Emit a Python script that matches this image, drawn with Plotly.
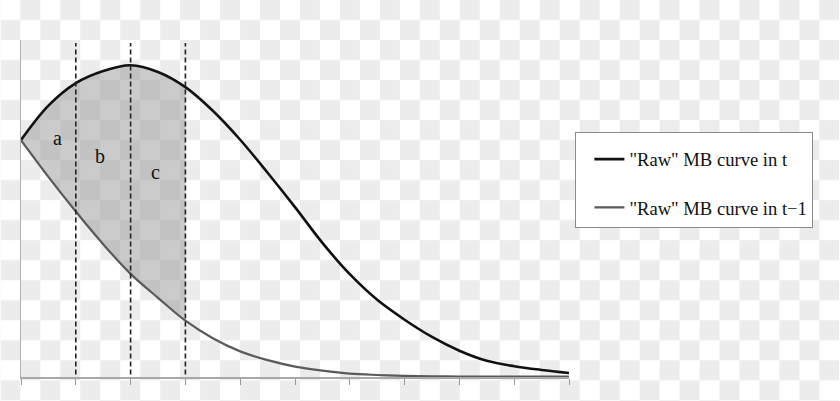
import base64
import plotly.graph_objects as go

# ---- data (x in tick units, y in relative MB units) ----
x_vals = [0, 0.5, 1, 1.5, 2, 2.5, 3, 3.5, 4, 4.5, 5, 5.5, 6, 6.5, 7, 7.5, 8, 8.5, 9, 9.5, 10]
mb_t = [7.03, 8.05, 8.72, 9.08, 9.25, 9.05, 8.60, 7.90, 7.04, 6.06, 5.04, 3.98, 3.05, 2.29, 1.70, 1.19, 0.78, 0.48, 0.32, 0.21, 0.12]
mb_t1 = [7.03, 5.94, 4.91, 3.94, 3.06, 2.35, 1.67, 1.15, 0.76, 0.50, 0.31, 0.19, 0.10, 0.06, 0.035, 0.022, 0.015, 0.012, 0.01, 0.01, 0.01]
series_names = ['"Raw" MB curve in t', '"Raw" MB curve in t\u22121']
divider_x = [1, 2, 3]
shade_end = 3
area_labels = ["a", "b", "c"]
area_label_x = [0.67, 1.44, 2.45]
area_label_y = [7.1, 6.55, 6.08]
x_ticks = list(range(0, 11))

SERIF = "Liberation Serif, Times New Roman, serif"

fig = go.Figure()

# shaded area between the curves up to the last divider
sx = [x for x in x_vals if x <= shade_end]
fig.add_trace(go.Scatter(x=sx, y=mb_t1[:len(sx)], mode="lines", line=dict(width=0, shape="spline"),
                         showlegend=False, hoverinfo="skip"))
fig.add_trace(go.Scatter(x=sx, y=mb_t[:len(sx)], mode="lines", line=dict(width=0, shape="spline"),
                         fill="tonexty", fillcolor="rgba(160,160,160,0.55)",
                         showlegend=False, hoverinfo="skip"))

# main curves
fig.add_trace(go.Scatter(x=x_vals, y=mb_t, mode="lines", name=series_names[0],
                         line=dict(color="#111111", width=2.6, shape="spline"),
                         legendgroup="g1"))
fig.add_trace(go.Scatter(x=x_vals, y=mb_t1, mode="lines", name=series_names[1],
                         line=dict(color="#5a5a5a", width=2.2, shape="spline"),
                         legendgroup="g2"))

# dashed dividers
for xv in divider_x:
    fig.add_shape(type="line", x0=xv, x1=xv, y0=-0.16, y1=9.91, xref="x", yref="y",
                  line=dict(color="#222222", width=1.6, dash="5px,3px"), layer="above")

for t, xx, yy in zip(area_labels, area_label_x, area_label_y):
    fig.add_annotation(x=xx, y=yy, text=t, showarrow=False,
                       font=dict(family=SERIF, size=20, color="#111111"))

# checkerboard backdrop (as in the reference picture)
svg = ('<svg xmlns="http://www.w3.org/2000/svg" width="840" height="401">'
       '<defs><pattern id="p" width="40" height="40" patternUnits="userSpaceOnUse">'
       '<rect width="40" height="40" fill="#ffffff"/>'
       '<rect x="20" y="0" width="20" height="20" fill="#ececec"/>'
       '<rect x="0" y="20" width="20" height="20" fill="#ececec"/>'
       '</pattern></defs><rect width="840" height="401" fill="url(#p)"/></svg>')
uri = "data:image/svg+xml;base64," + base64.b64encode(svg.encode()).decode()

L, R, T, B = 20.7, 270.7, 40, 24.3
pw = 840 - L - R
ph = 401 - T - B
fig.add_layout_image(dict(source=uri, xref="paper", yref="paper",
                          x=-L / pw, y=1 + T / ph, sizex=840 / pw, sizey=401 / ph,
                          xanchor="left", yanchor="top", sizing="stretch", layer="below"))

fig.update_layout(
    width=840, height=401,
    margin=dict(l=L, r=R, t=T, b=B, pad=0),
    paper_bgcolor="white", plot_bgcolor="rgba(0,0,0,0)",
    showlegend=True,
    legend=dict(x=(575.7 - L) / pw, y=(401 - B - 131.7) / ph, xanchor="left", yanchor="top",
                bgcolor="white", bordercolor="#8a8a8a", borderwidth=1,
                font=dict(family=SERIF, size=18.6, color="#111111"),
                title=dict(text=" ", font=dict(size=6)),
                indentation=13, entrywidth=215, entrywidthmode="pixels",
                tracegroupgap=21, traceorder="grouped"),
    xaxis=dict(range=[0, 10], tickvals=x_ticks, showticklabels=False, ticks="outside",
               ticklen=6, tickcolor="#9a9a9a", tickwidth=1.2, showgrid=False, zeroline=False,
               showline=True, linecolor="#a8a8a8", linewidth=1.5),
    yaxis=dict(range=[0, 10], showticklabels=False, ticks="", showgrid=False, zeroline=False,
               showline=True, linecolor="#b0b0b0", linewidth=1.2),
)

fig.write_html("out.html", config={"displayModeBar": False},
               post_script="document.body.style.margin='0';document.body.style.overflow='hidden';")
